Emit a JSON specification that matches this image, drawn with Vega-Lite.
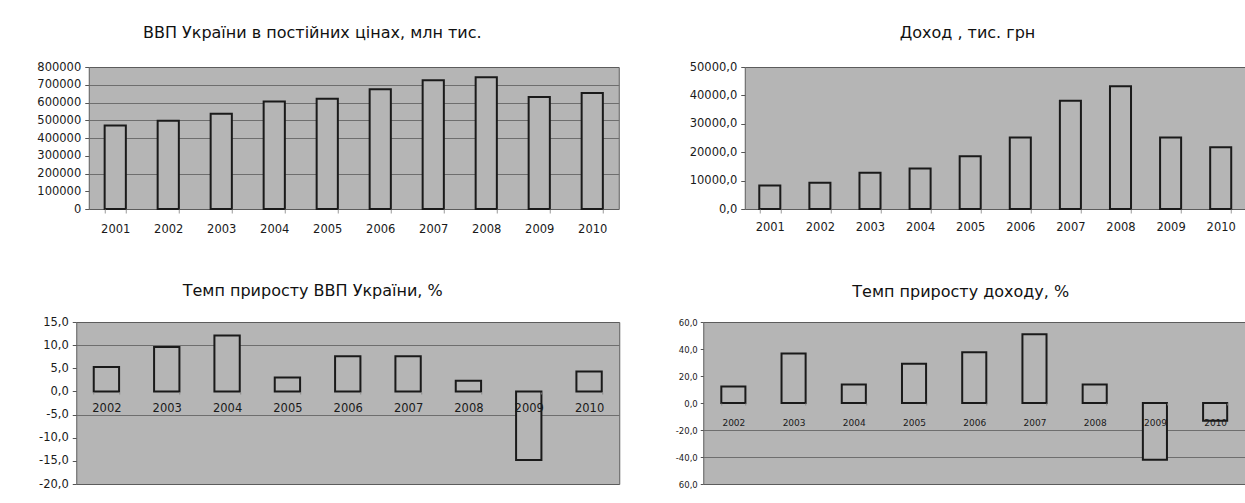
{
  "$schema": "https://vega.github.io/schema/vega-lite/v6.json",
  "padding": {"left": 5, "top": 24, "right": 0, "bottom": 0},
  "background": "white",
  "config": {
    "view": {"fill": "#b5b5b5", "stroke": "#5c5c5c", "strokeWidth": 1},
    "font": "DejaVu Sans",
    "title": {"font": "DejaVu Sans", "fontSize": 16, "fontWeight": "normal", "color": "#111", "anchor": "middle", "frame": "bounds"},
    "axis": {"labelFont": "DejaVu Sans", "labelColor": "#1a1a1a", "domain": false, "tickColor": "#555", "titleFontSize": 0},
    "bar": {"fill": "#b5b5b5", "stroke": "#1a1a1a", "strokeWidth": 2}
  },
  "datasets": {
    "gdp": [
      {"year": "2001", "value": 470000}, {"year": "2002", "value": 497000},
      {"year": "2003", "value": 536000}, {"year": "2004", "value": 606000},
      {"year": "2005", "value": 621000}, {"year": "2006", "value": 674000},
      {"year": "2007", "value": 725000}, {"year": "2008", "value": 742000},
      {"year": "2009", "value": 631000}, {"year": "2010", "value": 653000}
    ],
    "income": [
      {"year": "2001", "value": 8300}, {"year": "2002", "value": 9200},
      {"year": "2003", "value": 12800}, {"year": "2004", "value": 14300},
      {"year": "2005", "value": 18600}, {"year": "2006", "value": 25200},
      {"year": "2007", "value": 38100}, {"year": "2008", "value": 43200},
      {"year": "2009", "value": 25200}, {"year": "2010", "value": 21700}
    ],
    "gdpGrowth": [
      {"year": "2002", "value": 5.3}, {"year": "2003", "value": 9.6},
      {"year": "2004", "value": 12.1}, {"year": "2005", "value": 3.0},
      {"year": "2006", "value": 7.6}, {"year": "2007", "value": 7.6},
      {"year": "2008", "value": 2.3}, {"year": "2009", "value": -14.8},
      {"year": "2010", "value": 4.3}
    ],
    "incomeGrowth": [
      {"year": "2002", "value": 12.2}, {"year": "2003", "value": 36.6},
      {"year": "2004", "value": 13.7}, {"year": "2005", "value": 29.0},
      {"year": "2006", "value": 37.6}, {"year": "2007", "value": 50.9},
      {"year": "2008", "value": 13.7}, {"year": "2009", "value": -42.0},
      {"year": "2010", "value": -13.2}
    ]
  },
  "center": true,
  "vconcat": [
    {
      "hconcat": [
        {
          "title": {"text": "ВВП України в постійних цінах, млн тис.", "offset": 20},
          "width": 530, "height": 142,
          "data": {"name": "gdp"},
          "mark": {"type": "bar"},
          "encoding": {
            "x": {"field": "year", "type": "ordinal", "title": null,
                  "scale": {"paddingInner": 0.6, "paddingOuter": 0.3},
                  "axis": {"labelAngle": 0, "labelFontSize": 11.5, "tickBand": "extent", "tickSize": 4, "labelPadding": 10, "tickColor": "#999", "zindex": 1}},
            "y": {"field": "value", "type": "quantitative", "title": null,
                  "scale": {"domain": [0, 800000], "nice": false},
                  "axis": {"values": [0, 100000, 200000, 300000, 400000, 500000, 600000, 700000, 800000],
                           "format": "d", "labelFontSize": 11.5, "tickSize": 4, "labelPadding": 4,
                           "minExtent": 83, "maxExtent": 83,
                           "grid": true, "gridColor": "#6e6e6e",
                           "gridOpacity": {"condition": {"test": "indexof([700000,600000,500000,400000,200000], datum.value) >= 0", "value": 1}, "value": 0}}}
          }
        },
        {
          "title": {"text": "Доход , тис. грн", "offset": 20},
          "width": 501, "height": 142,
          "data": {"name": "income"},
          "mark": {"type": "bar"},
          "encoding": {
            "x": {"field": "year", "type": "ordinal", "title": null,
                  "scale": {"paddingInner": 0.58, "paddingOuter": 0.29},
                  "axis": {"labelAngle": 0, "labelFontSize": 11.5, "tickBand": "extent", "tickSize": 4, "labelPadding": 8, "tickColor": "#999", "zindex": 1}},
            "y": {"field": "value", "type": "quantitative", "title": null,
                  "scale": {"domain": [0, 50000], "nice": false},
                  "axis": {"values": [0, 10000, 20000, 30000, 40000, 50000],
                           "labelExpr": "replace(format(datum.value, '.1f'), '.', ',')",
                           "labelFontSize": 11.5, "tickSize": 4, "labelPadding": 4,
                           "minExtent": 55, "maxExtent": 55, "grid": false}}
          }
        }
      ],
      "spacing": 68
    },
    {
      "hconcat": [
        {
          "title": {"text": "Темп приросту ВВП України, %", "offset": 17},
          "width": 543, "height": 162,
          "data": {"name": "gdpGrowth"},
          "mark": {"type": "bar"},
          "encoding": {
            "x": {"field": "year", "type": "ordinal", "title": null,
                  "scale": {"paddingInner": 0.58, "paddingOuter": 0.29},
                  "axis": {"labelAngle": 0, "labelFontSize": 11.5, "tickBand": "extent", "tickSize": 2, "labelPadding": 8, "tickColor": "#8a8a8a", "offset": -92, "zindex": 1}},
            "y": {"field": "value", "type": "quantitative", "title": null,
                  "scale": {"domain": [-20, 15], "nice": false},
                  "axis": {"values": [-20, -15, -10, -5, 0, 5, 10, 15],
                           "labelExpr": "(datum.value < 0 ? '-' : '') + replace(format(abs(datum.value), '.1f'), '.', ',')",
                           "labelFontSize": 11.5, "tickSize": 4, "labelPadding": 4,
                           "minExtent": 70, "maxExtent": 70,
                           "grid": true, "gridColor": "#6e6e6e",
                           "gridOpacity": {"condition": {"test": "datum.value == 10 || datum.value == -5", "value": 1}, "value": 0}}}
          }
        },
        {
          "title": {"text": "Темп приросту доходу, %", "offset": 18},
          "width": 542, "height": 162,
          "data": {"name": "incomeGrowth"},
          "resolve": {"scale": {"y": "shared"}, "axis": {"y": "independent"}},
          "layer": [
            {
              "mark": {"type": "bar"},
              "encoding": {
                "x": {"field": "year", "type": "ordinal", "title": null,
                      "scale": {"paddingInner": 0.6, "paddingOuter": 0.3},
                      "axis": {"labelAngle": 0, "labelFontSize": 9, "tickBand": "extent", "tickSize": 2, "labelPadding": 13, "tickColor": "#8a8a8a", "offset": -81, "zindex": 1}},
                "y": {"field": "value", "type": "quantitative", "title": null,
                      "scale": {"domain": [-60, 60], "nice": false},
                      "axis": {"values": [-60, -40, -20, 0, 20, 40, 60],
                               "labelExpr": "datum.value == -60 ? '60,0' : (datum.value < 0 ? '-' : '') + replace(format(abs(datum.value), '.1f'), '.', ',')",
                               "labelFontSize": 8.5, "tickSize": 3, "labelPadding": 3,
                               "minExtent": 40, "maxExtent": 40,
                               "grid": true, "gridColor": "#6e6e6e",
                               "gridOpacity": {"condition": {"test": "datum.value == -20 || datum.value == -40", "value": 1}, "value": 0}}}
              }
            },
            {
              "mark": {"type": "bar", "opacity": 0},
              "encoding": {
                "x": {"field": "year", "type": "ordinal", "title": null},
                "y": {"field": "value", "type": "quantitative", "title": null,
                      "axis": {"orient": "right", "labels": false, "ticks": false, "domain": false, "grid": false,
                               "minExtent": 13, "maxExtent": 13}}
              }
            }
          ]
        }
      ],
      "spacing": 42
    }
  ],
  "spacing": 47
}
